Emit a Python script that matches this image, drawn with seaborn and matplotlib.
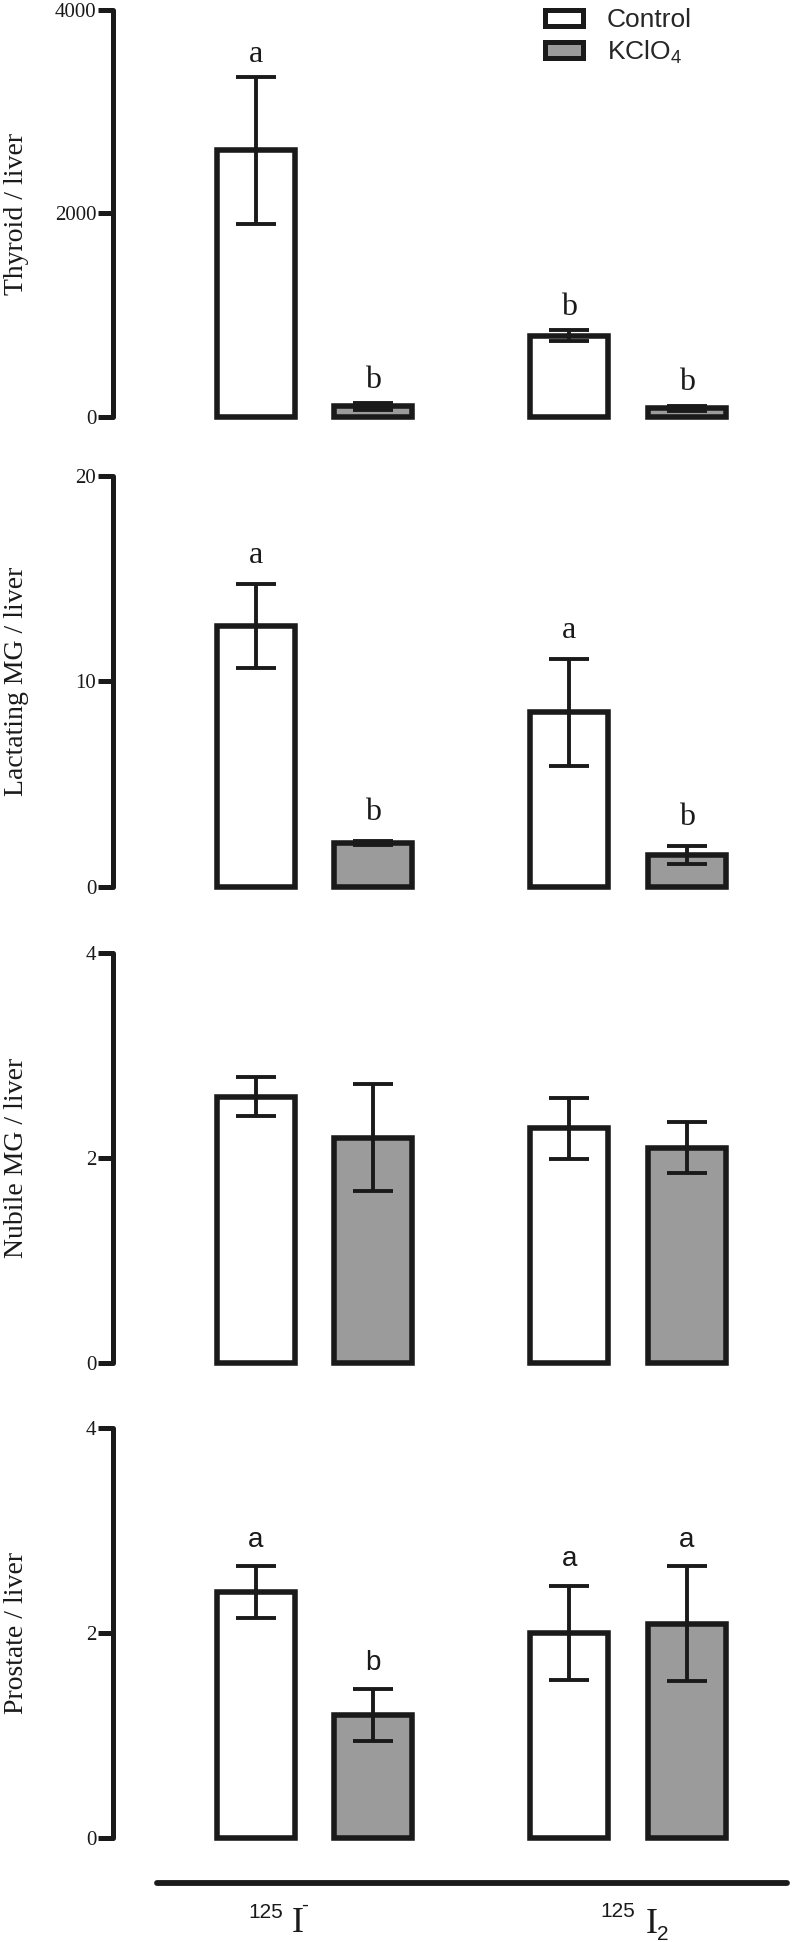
import pandas as pd
import seaborn as sns
import matplotlib.pyplot as plt
from matplotlib.patches import Patch
from matplotlib.lines import Line2D

# categories
groups = ['125I-', '125I2']
treatments = ['Control', 'KClO4']

# means and errors, per treatment, ordered as groups
thyroid_ctrl = [2620, 800]
thyroid_ctrl_err = [720, 55]
thyroid_kclo4 = [105, 85]
thyroid_kclo4_err = [33, 28]

lact_ctrl = [12.7, 8.5]
lact_ctrl_err = [2.05, 2.6]
lact_kclo4 = [2.15, 1.55]
lact_kclo4_err = [0.1, 0.45]

nubile_ctrl = [2.6, 2.29]
nubile_ctrl_err = [0.19, 0.30]
nubile_kclo4 = [2.2, 2.1]
nubile_kclo4_err = [0.52, 0.25]

prost_ctrl = [2.4, 2.0]
prost_ctrl_err = [0.25, 0.46]
prost_kclo4 = [1.2, 2.09]
prost_kclo4_err = [0.25, 0.56]

# significance letters
thyroid_letters = [['a', 'b'], ['b', 'b']]
lact_letters = [['a', 'a'], ['b', 'b']]
nubile_letters = [['', ''], ['', '']]
prost_letters = [['a', 'a'], ['b', 'a']]

ylabels = ['Thyroid / liver', 'Lactating MG / liver', 'Nubile MG / liver', 'Prostate / liver']
yticks = [[0, 2000, 4000], [0, 10, 20], [0, 2, 4], [0, 2, 4]]

panels = [
    (thyroid_ctrl, thyroid_ctrl_err, thyroid_kclo4, thyroid_kclo4_err, thyroid_letters),
    (lact_ctrl, lact_ctrl_err, lact_kclo4, lact_kclo4_err, lact_letters),
    (nubile_ctrl, nubile_ctrl_err, nubile_kclo4, nubile_kclo4_err, nubile_letters),
    (prost_ctrl, prost_ctrl_err, prost_kclo4, prost_kclo4_err, prost_letters),
]

SERIF = 'Liberation Serif'
SANS = 'Liberation Sans'
DARK = '#1a1a1a'
GRAY = '#9b9b9b'

sns.set_style('white')
plt.rcParams['font.family'] = [SERIF, 'DejaVu Serif']

W, H = 792, 1942
fig = plt.figure(figsize=(W / 100, H / 100), dpi=100)

# panel pixel extents (top of axis, zero line)
extents = [(10, 417), (476, 887), (953, 1363), (1428, 1838)]
letter_font = [SERIF, SERIF, SERIF, SANS]
letter_pad = [11, 15, 14, 14]
ax_left, ax_right = 113, 790

for i, (ctrl, ctrl_err, kc, kc_err, letters) in enumerate(panels):
    top, bot = extents[i]
    ax = fig.add_axes([ax_left / W, 1 - bot / H, (ax_right - ax_left) / W, (bot - top) / H])
    df = pd.DataFrame({
        'group': groups * 2,
        'treatment': [treatments[0]] * 2 + [treatments[1]] * 2,
        'value': ctrl + kc,
    })
    sns.barplot(data=df, x='group', y='value', hue='treatment', hue_order=treatments,
                order=groups, palette=['white', GRAY], edgecolor=DARK, linewidth=4,
                width=0.75, gap=0.336, errorbar=None, legend=False, ax=ax)
    errs = [ctrl_err, kc_err]
    vals = [ctrl, kc]
    bar_conts = list(ax.containers)
    for h, cont in enumerate(bar_conts):
        xs = [b.get_x() + b.get_width() / 2 for b in cont]
        for b in cont:
            b.set_clip_on(False)
        ax.errorbar(xs, vals[h], yerr=errs[h], fmt='none', ecolor=DARK,
                    elinewidth=2.8, capsize=14.4, capthick=2.8, zorder=5, clip_on=False)
        for j, x in enumerate(xs):
            if letters[h][j]:
                ax.annotate(letters[h][j], xy=(x, vals[h][j] + errs[h][j]),
                            xytext=(0, letter_pad[i]), textcoords='offset points',
                            ha='center', va='baseline', fontsize=23 if i < 3 else 20,
                            family=letter_font[i], color=DARK, annotation_clip=False)
    ymax = yticks[i][-1]
    ax.set_ylim(0, ymax)
    ax.set_xlim(-0.643, 1.517)
    ax.set_yticks(yticks[i])
    ax.set_yticklabels([str(t) for t in yticks[i]], fontsize=15, family=SERIF, color=DARK)
    ax.tick_params(axis='y', length=11, width=3.6, color=DARK, pad=1, left=True)
    ax.tick_params(axis='x', length=0)
    ax.set_xticks([])
    ax.set_xlabel('')
    ax.set_ylabel(ylabels[i], fontsize=20, family=SERIF, color=DARK)
    ax.yaxis.set_label_coords((29 - ax_left) / (ax_right - ax_left), 0.5)
    for s in ['top', 'right', 'bottom']:
        ax.spines[s].set_visible(False)
    ax.spines['left'].set_linewidth(3.6)
    ax.spines['left'].set_color(DARK)
    ax.spines['left'].set_capstyle('round')
    ax.patch.set_alpha(0)

    if i == 0:
        handles = [Patch(facecolor='white', edgecolor=DARK, linewidth=3.6),
                   Patch(facecolor=GRAY, edgecolor=DARK, linewidth=3.6)]
        fig.legend(handles, ['Control', 'KClO$_\\mathregular{4}$'], loc='upper left',
                   bbox_to_anchor=(545 / W, 1 - 8 / H), frameon=False,
                   prop={'family': SANS, 'size': 19}, handlelength=1.45,
                   handleheight=0.57, handletextpad=0.9, labelspacing=0.25,
                   borderpad=0, borderaxespad=0)

# bottom group line
fig.add_artist(Line2D([157 / W, 787 / W], [1 - 1883 / H, 1 - 1883 / H],
                      color=DARK, linewidth=4.2, solid_capstyle='round'))


def px(x, y):
    return x / W, 1 - y / H


# group labels: 125 I-  and 125 I2
fig.text(*px(248, 1918), '125', family=SANS, fontsize=15, color=DARK, va='baseline')
fig.text(*px(292, 1932), 'I', family=SERIF, fontsize=26, color=DARK, va='baseline')
fig.text(*px(301, 1911), '-', family=SANS, fontsize=15, color=DARK, va='baseline')
fig.text(*px(600, 1917), '125', family=SANS, fontsize=15, color=DARK, va='baseline')
fig.text(*px(646, 1933), 'I', family=SERIF, fontsize=26, color=DARK, va='baseline')
fig.text(*px(657, 1940), '2', family=SANS, fontsize=15, color=DARK, va='baseline')

fig.savefig('out.png', dpi=100)
